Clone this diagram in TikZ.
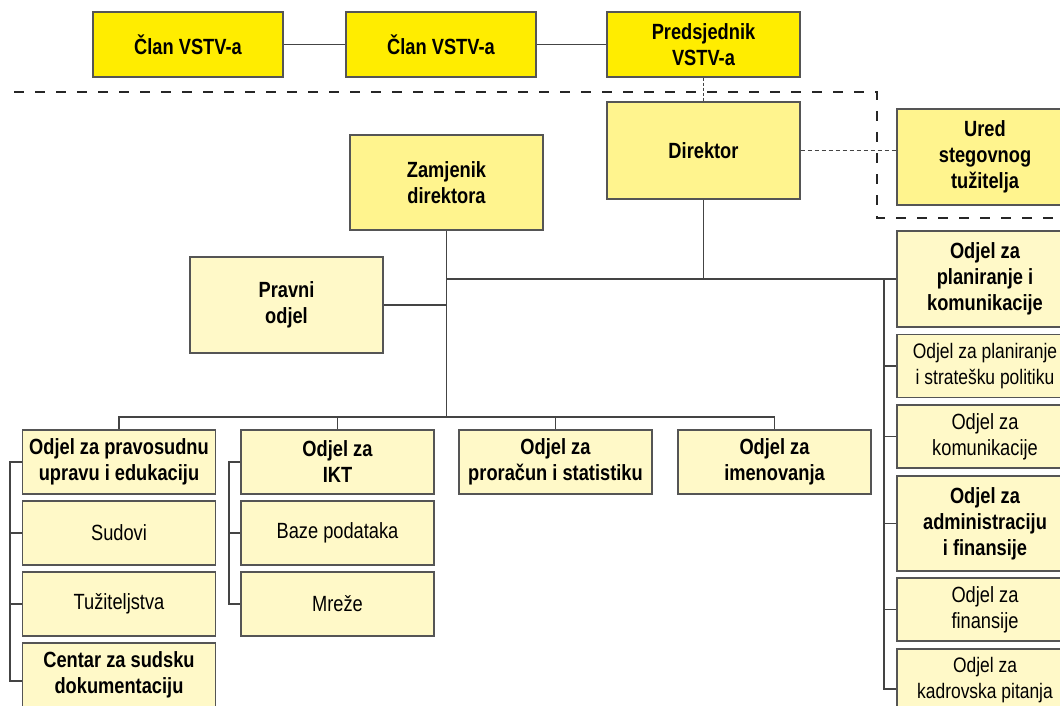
\documentclass[tikz,border=0pt]{standalone}
\usepackage{fontspec}
\setmainfont{Liberation Sans}[FakeStretch=0.83]
\definecolor{vstvyellow}{HTML}{FFED00}
\definecolor{headyellow}{HTML}{FFF48E}
\definecolor{unityellow}{HTML}{FFF9C8}
\definecolor{boxline}{HTML}{555555}
\definecolor{linkline}{HTML}{444444}

\begin{document}
\begin{tikzpicture}[x=1pt,y=-1pt]
    \tikzstyle{every node}=[draw=boxline,line width=1.2pt,align=center,inner sep=2pt,font=\fontsize{22}{26}\selectfont]
    \tikzstyle{vstv}=[fill=vstvyellow,font=\fontsize{22}{26}\selectfont\bfseries,minimum width=190pt,minimum height=65pt]
    \tikzstyle{head}=[fill=headyellow,font=\fontsize{22}{26}\selectfont\bfseries,minimum width=193pt,minimum height=96pt]
    \tikzstyle{unit}=[fill=unityellow,font=\fontsize{22}{26}\selectfont\bfseries,minimum width=193pt,minimum height=64pt]
    \tikzstyle{sub}=[fill=unityellow,minimum width=193pt,minimum height=64pt]
    \tikzstyle{link}=[draw=linkline,line width=1.1pt]
    \clip (0,0) rectangle (1060,706);

    % VSTV
    \node[vstv] (clan1) at (188,44.5) {Član VSTV-a};
    \node[vstv] (clan2) at (441,44.5) {Član VSTV-a};
    \node[vstv,minimum width=193pt] (pred) at (703.5,44.5) {Predsjednik\\VSTV-a};
    \draw[link] (clan1) -- (clan2);
    \draw[link] (clan2) -- (pred);

    % border of the council
    \draw[black!85,line width=2.4pt,dash pattern=on 10pt off 11pt] (14,92) -- (877,92) -- (877,218) -- (1060,218);

    % director
    \node[head,minimum height=97pt] (dir) at (703.5,150.5) {Direktor};
    \draw[link,line width=0.8pt,dash pattern=on 3pt off 2pt] (pred) -- (dir);

    % disciplinary prosecutor
    \node[head,minimum width=176pt] (ured) at (985,157) {Ured\\stegovnog\\tužitelja};
    \draw[link,line width=0.8pt,dash pattern=on 4pt off 3pt] (dir.east) -- (dir.east -| ured.west);

    % deputy
    \node[head,minimum height=95pt] (zam) at (446.5,182.5) {Zamjenik\\direktora};
    \coordinate (hub) at (446.5,279);
    \coordinate (bus) at (446.5,417);
    \coordinate (rspine) at (884,279);
    \coordinate (lspine) at (10,462);
    \coordinate (ispine) at (229,462);
    \draw[link] (zam) -- (bus);
    \draw[link] (dir) -- (dir.south |- hub);

    % legal
    \node[unit,minimum height=96pt] (pravni) at (286.5,305) {Pravni\\odjel};
    \draw[link] (pravni) -- (pravni.east -| hub);

    % planning and communication
    \node[unit,minimum width=176pt,minimum height=96pt] (plankom) at (985,279) {Odjel za\\planiranje i\\komunikacije};
    \node[sub,minimum width=176pt,minimum height=63pt,font=\fontsize{21}{26}\selectfont] (strat) at (985,366) {Odjel za planiranje\\i stratešku politiku};
    \node[sub,minimum width=176pt,minimum height=63pt] (kom) at (985,436.5) {Odjel za\\komunikacije};

    % administration and finance
    \node[unit,minimum width=176pt,minimum height=95pt] (adfin) at (985,523.5) {Odjel za\\administraciju\\i finansije};
    \node[sub,minimum width=176pt,minimum height=63pt] (fin) at (985,609.5) {Odjel za\\finansije};
    \node[sub,minimum width=176pt,minimum height=63pt,font=\fontsize{21}{26}\selectfont] (kadr) at (985,680.5) {Odjel za\\kadrovska pitanja};

    \draw[link] (hub) -- (rspine) -- (rspine |- 0,689) -- ([yshift=-8.5pt]kadr.west);
    \draw[link] (rspine) -- (plankom.west);
    \foreach \n in {strat,kom,adfin,fin}
        \draw[link] (rspine |- \n.west) -- (\n.west);

    % departments
    \node[unit] (pravos) at (119,462) {Odjel za pravosudnu\\upravu i edukaciju};
    \node[unit] (ikt) at (337.5,462) {Odjel za\\IKT};
    \node[unit] (pror) at (555.5,462) {Odjel za\\proračun i statistiku};
    \node[unit] (imen) at (774.5,462) {Odjel za\\imenovanja};
    \draw[link] (pravos) -- (pravos.north |- bus) -- (imen.north |- bus) -- (imen);
    \draw[link] (ikt) -- (ikt.north |- bus);
    \draw[link] (pror) -- (pror.north |- bus);

    % courts and prosecutors
    \node[sub, below of=pravos, node distance=71pt] (sudovi) {Sudovi};
    \node[sub, below of=sudovi, node distance=71pt] (tuz) {Tužiteljstva};
    \node[unit, below of=tuz, node distance=71pt] (centar) {Centar za sudsku\\dokumentaciju};
    \draw[link] (pravos.west) -- (lspine) -- (lspine |- 0,681) -- ([yshift=-6pt]centar.west);
    \foreach \n in {sudovi,tuz}
        \draw[link] (lspine |- \n.west) -- (\n.west);

    % IT
    \node[sub, below of=ikt, node distance=71pt] (baze) {Baze podataka};
    \node[sub, below of=baze, node distance=71pt] (mreze) {Mreže};
    \draw[link] (ikt.west) -- (ispine) -- (ispine |- mreze.west) -- (mreze.west);
    \draw[link] (ispine |- baze.west) -- (baze.west);

\end{tikzpicture}
\end{document}
